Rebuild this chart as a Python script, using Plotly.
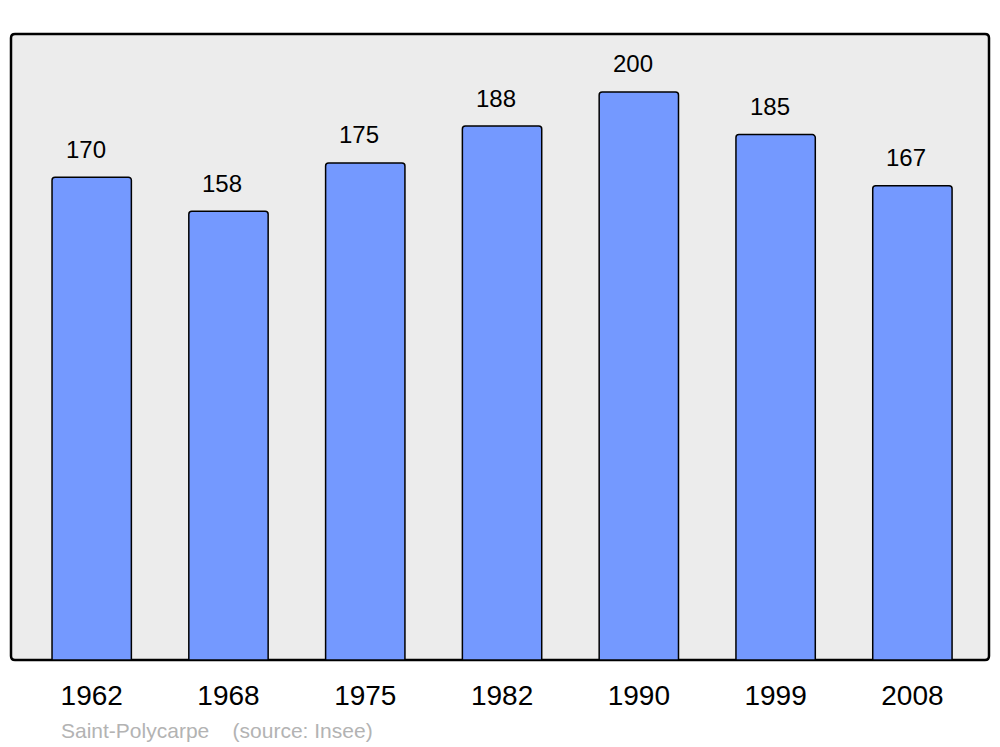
import plotly.graph_objects as go

years = ['1962', '1968', '1975', '1982', '1990', '1999', '2008']
population = [170, 158, 175, 188, 200, 185, 167]
source_text = 'Saint-Polycarpe    (source: Insee)'

cols = {
    'bar': '#7499ff',
    'frame_bg': '#ececec',
    'black': '#000000',
    'grey': '#b3b3b3',
}

W, H = 1000, 747
M = dict(l=11, r=11, t=34, b=87)
pw = W - M['l'] - M['r']
ph = H - M['t'] - M['b']

fig = go.Figure()

fig.add_trace(
    go.Bar(
        x=years,
        y=population,
        width=0.58,
        marker=dict(
            color=cols['bar'],
            line=dict(color=cols['black'], width=1.5),
            cornerradius=3,
        ),
        hoverinfo='skip',
    )
)

# value labels above the bars (x as category index)
for i, val in enumerate(population):
    fig.add_annotation(
        x=i, y=val, text=str(val), showarrow=False,
        xanchor='center', yanchor='middle', xshift=-6, yshift=28,
        font=dict(size=24, color=cols['black']),
    )

fig.add_annotation(
    x=48 / pw, y=-70 / ph, xref='paper', yref='paper',
    text=source_text.replace('    ', '&nbsp;&nbsp;&nbsp;&nbsp;'),
    showarrow=False, xanchor='left', yanchor='middle',
    font=dict(size=21, color=cols['grey']),
)

# rounded frame around the plot area
rx, ry = 4 / pw, 4 / ph
frame = (
    f'M {rx},0 L {1-rx},0 Q 1,0 1,{ry} L 1,{1-ry} Q 1,1 {1-rx},1 '
    f'L {rx},1 Q 0,1 0,{1-ry} L 0,{ry} Q 0,0 {rx},0 Z'
)
fig.add_shape(
    type='path', path=frame, xref='paper', yref='paper',
    fillcolor=cols['frame_bg'], line=dict(color=cols['black'], width=2.5),
    layer='below',
)

fig.update_xaxes(
    type='category',
    range=[-0.59, 6.56],
    showgrid=False, zeroline=False, showline=False,
    ticks='outside', ticklen=10, tickcolor='rgba(0,0,0,0)',
    tickfont=dict(size=28, color=cols['black']),
)
fig.update_yaxes(
    range=[0, 220.4],
    showgrid=False, zeroline=False, showline=False,
    showticklabels=False,
)

fig.update_layout(
    width=W, height=H,
    margin=M,
    font=dict(family='Liberation Sans, Arial, sans-serif'),
    plot_bgcolor='rgba(0,0,0,0)',
    paper_bgcolor='white',
    showlegend=False,
)

fig.write_html(
    'out.html',
    config={'displayModeBar': False},
    post_script="document.body.style.margin='0';",
)
